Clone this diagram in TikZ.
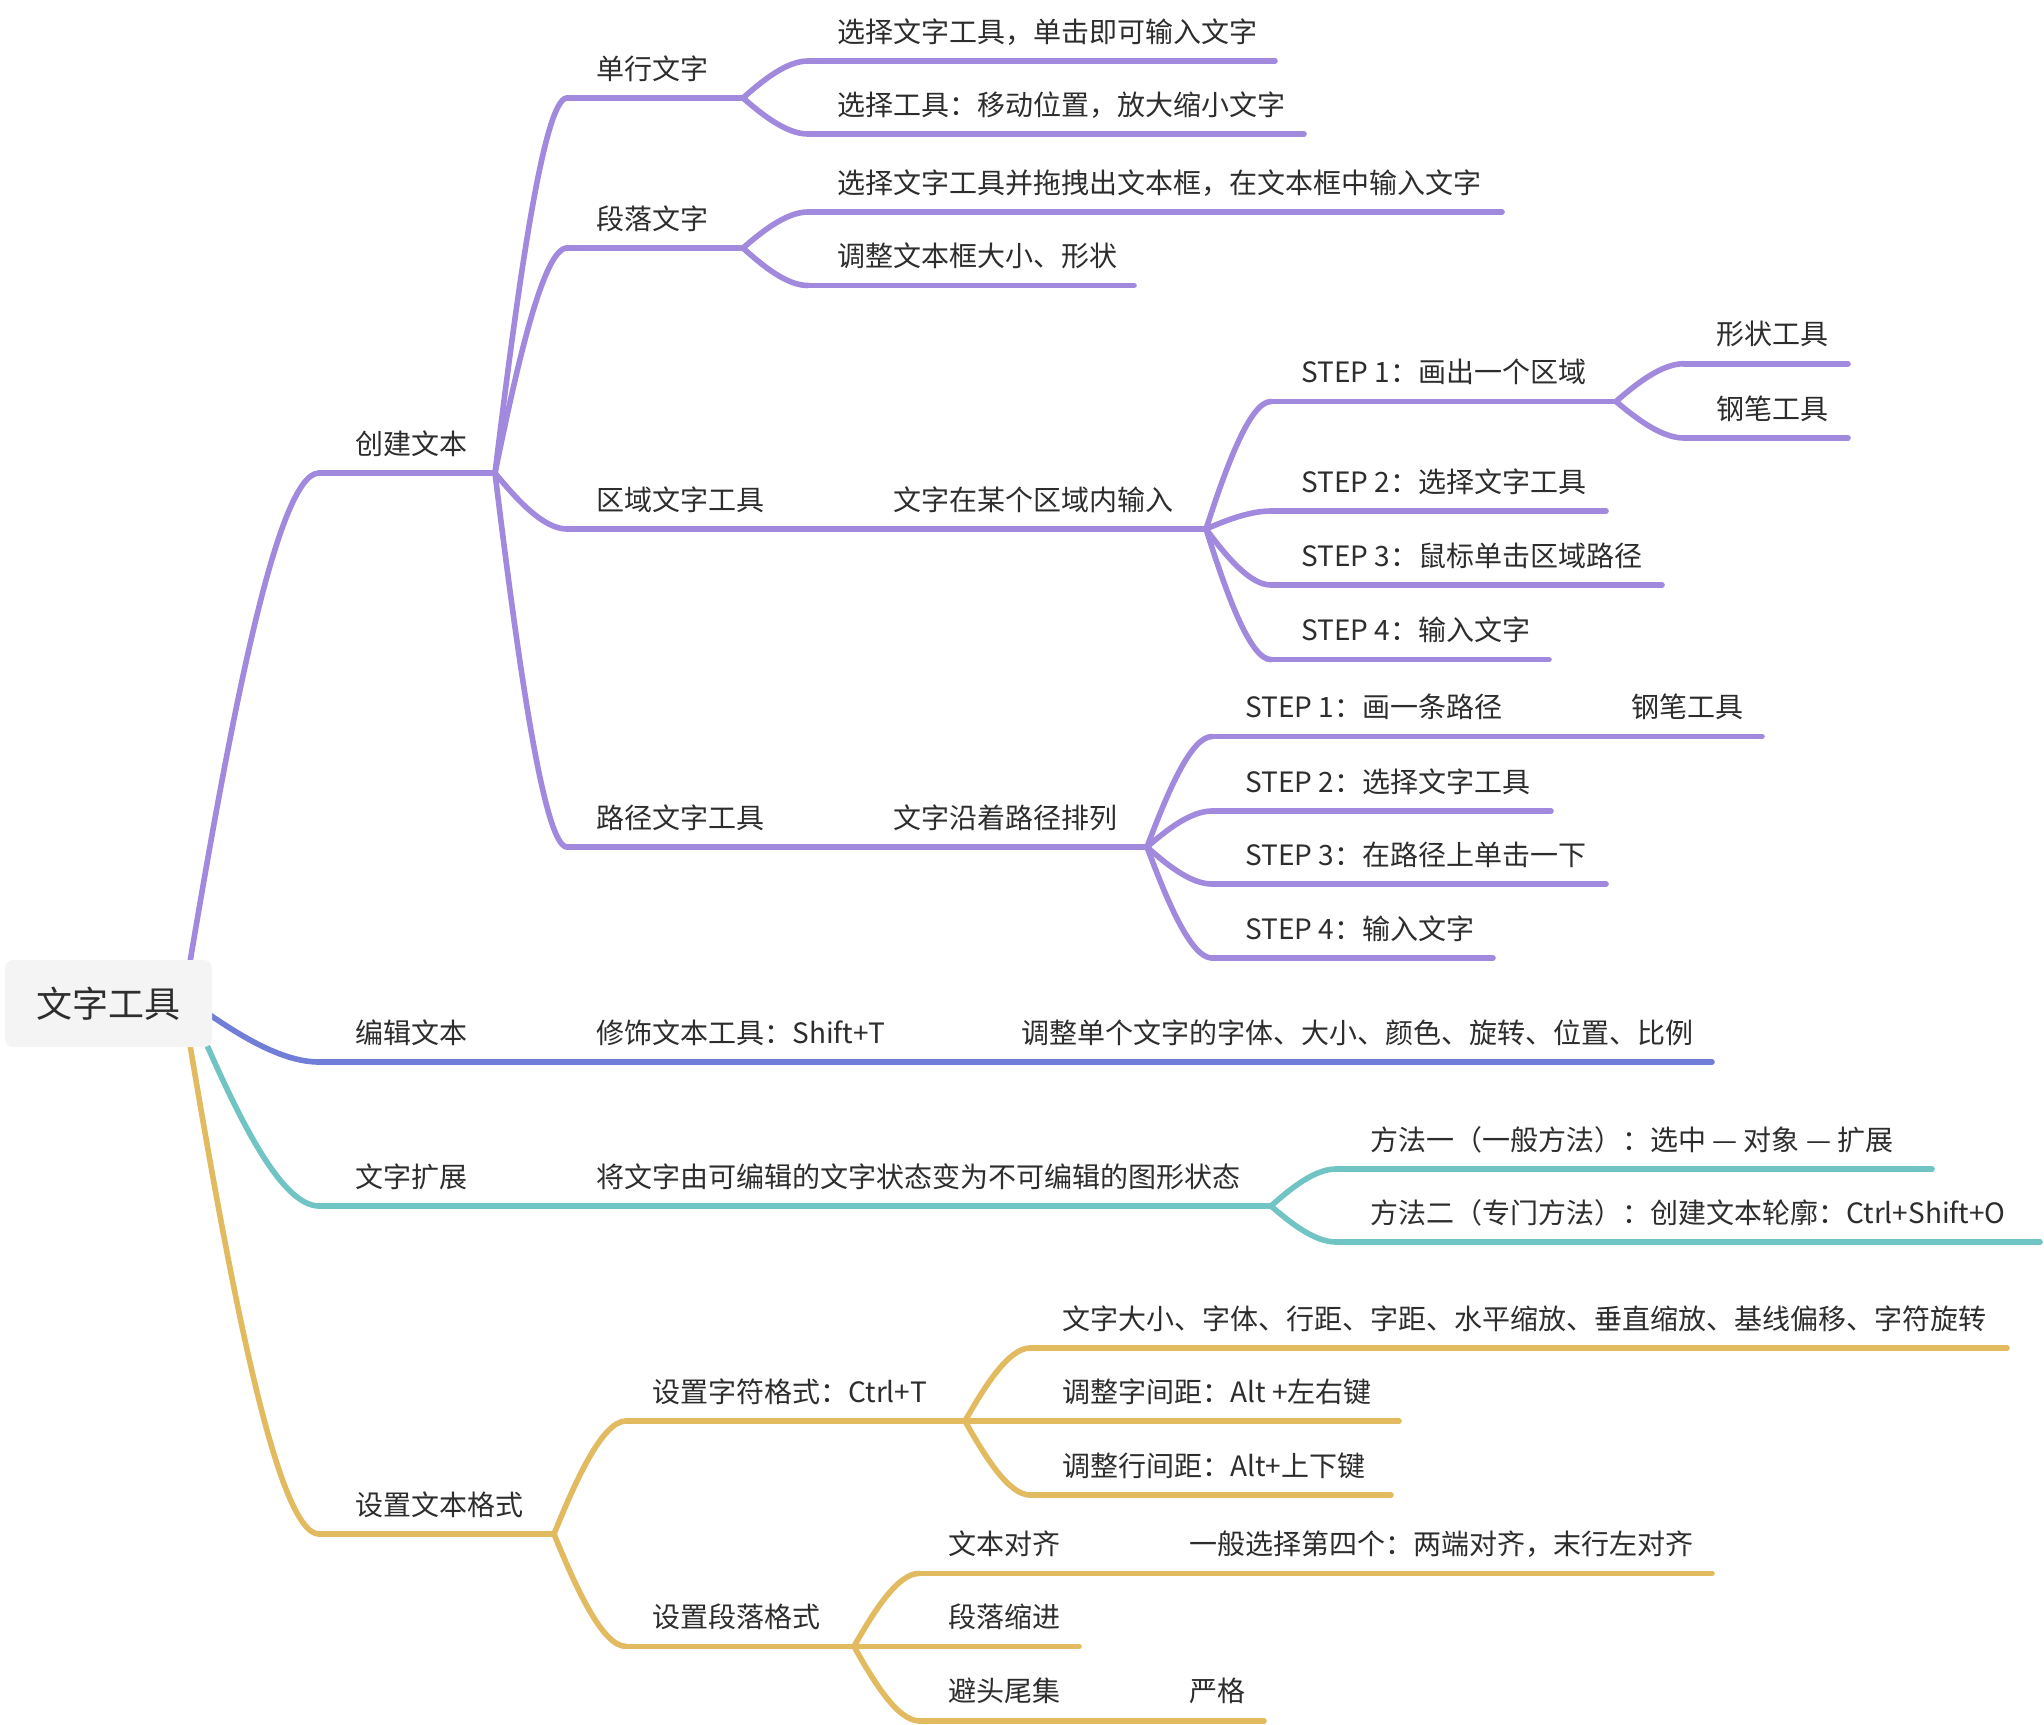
\documentclass[tikz,border=0pt]{standalone}
\usepackage{fontspec}
\setmainfont{Noto Sans CJK SC}
\usetikzlibrary{calc}
\definecolor{cpur}{RGB}{161,137,222}
\definecolor{cblu}{RGB}{112,126,216}
\definecolor{ctea}{RGB}{112,196,196}
\definecolor{cgol}{RGB}{226,186,96}
\definecolor{tcol}{RGB}{45,45,45}
\definecolor{rootfill}{RGB}{244,244,244}
\newcommand\mmnode[7]{%
  \coordinate (#1s) at (#3,#5);
  \coordinate (#1e) at (#4,#5);
  \draw[ln,#2] (#1s) -- (#1e);
  \node[txt] (#1) at (#6,#5-19) {#7};}
\newcommand\mmconn[3]{%
  \draw[ln,#1] let \p1=(#2), \p2=(#3) in (\p1) .. controls ({\x1+0.3*(\x2-\x1)},{\y1+0.47*(\y2-\y1)}) and ({\x2-0.33*(\x2-\x1)},{\y2}) .. (\p2);}
\begin{document}
\begin{tikzpicture}[x=0.5pt,y=-0.5pt,
  txt/.style={anchor=base west, inner sep=0pt, text=tcol, font=\fontsize{14pt}{16pt}\selectfont},
  ln/.style={line width=2.8pt, line cap=round}]
\useasboundingbox (0,0) rectangle (2044,1724);
% root anchors
\coordinate (r1) at (190,962);
\coordinate (r2) at (210,1015);
\coordinate (r3) at (206,1043);
\coordinate (r4) at (190,1045);
% ---- purple: 创建文本
\mmnode{A}{cpur}{319}{495}{473}{355}{创建文本}
\mmnode{A1}{cpur}{567}{743}{98}{596}{单行文字}
\mmnode{A1a}{cpur}{808}{1275}{61}{837}{选择文字工具，单击即可输入文字}
\mmnode{A1b}{cpur}{808}{1304}{134}{837}{选择工具：移动位置，放大缩小文字}
\mmnode{A2}{cpur}{567}{743}{248}{596}{段落文字}
\mmnode{A2a}{cpur}{808}{1502}{212}{837}{选择文字工具并拖拽出文本框，在文本框中输入文字}
\mmnode{A2b}{cpur}{808}{1134}{285.5}{837}{调整文本框大小、形状}
\mmnode{A3}{cpur}{567}{864}{529}{596}{区域文字工具}
\mmnode{A3a}{cpur}{864}{1206}{529}{893}{文字在某个区域内输入}
\mmnode{S1}{cpur}{1271}{1616}{401.5}{1301}{STEP 1：画出一个区域}
\mmnode{S1a}{cpur}{1684}{1848}{363.7}{1716}{形状工具}
\mmnode{S1b}{cpur}{1684}{1848}{438}{1716}{钢笔工具}
\mmnode{S2}{cpur}{1271}{1606}{511}{1301}{STEP 2：选择文字工具}
\mmnode{S3}{cpur}{1271}{1662}{585}{1301}{STEP 3：鼠标单击区域路径}
\mmnode{S4}{cpur}{1271}{1549}{659.6}{1301}{STEP 4：输入文字}
\mmnode{A4}{cpur}{567}{864}{847}{596}{路径文字工具}
\mmnode{A4a}{cpur}{864}{1147}{847}{893}{文字沿着路径排列}
\mmnode{P1}{cpur}{1212}{1602}{736.5}{1245}{STEP 1：画一条路径}
\mmnode{P1a}{cpur}{1602}{1762}{736.5}{1631}{钢笔工具}
\mmnode{P2}{cpur}{1212}{1551}{811}{1245}{STEP 2：选择文字工具}
\mmnode{P3}{cpur}{1212}{1606}{884}{1245}{STEP 3：在路径上单击一下}
\mmnode{P4}{cpur}{1212}{1493}{958}{1245}{STEP 4：输入文字}
\mmconn{cpur}{r1}{As}
\mmconn{cpur}{Ae}{A1s}
\mmconn{cpur}{Ae}{A2s}
\mmconn{cpur}{Ae}{A3s}
\mmconn{cpur}{Ae}{A4s}
\mmconn{cpur}{A1e}{A1as}
\mmconn{cpur}{A1e}{A1bs}
\mmconn{cpur}{A2e}{A2as}
\mmconn{cpur}{A2e}{A2bs}
\mmconn{cpur}{A3ae}{S1s}
\mmconn{cpur}{A3ae}{S2s}
\mmconn{cpur}{A3ae}{S3s}
\mmconn{cpur}{A3ae}{S4s}
\mmconn{cpur}{S1e}{S1as}
\mmconn{cpur}{S1e}{S1bs}
\mmconn{cpur}{A4ae}{P1s}
\mmconn{cpur}{A4ae}{P2s}
\mmconn{cpur}{A4ae}{P3s}
\mmconn{cpur}{A4ae}{P4s}
% ---- blue: 编辑文本
\mmnode{B}{cblu}{319}{567}{1062}{355}{编辑文本}
\mmnode{B1}{cblu}{567}{992}{1062}{596}{修饰文本工具：Shift+T}
\mmnode{B2}{cblu}{992}{1712}{1062}{1021}{调整单个文字的字体、大小、颜色、旋转、位置、比例}
\mmconn{cblu}{r2}{Bs}
% ---- teal: 文字扩展
\mmnode{C}{ctea}{319}{567}{1206}{355}{文字扩展}
\mmnode{C1}{ctea}{567}{1271}{1206}{596}{将文字由可编辑的文字状态变为不可编辑的图形状态}
\mmnode{C1a}{ctea}{1336}{1932}{1169}{1370}{方法一（一般方法）：选中 — 对象 — 扩展}
\mmnode{C1b}{ctea}{1336}{2040}{1242}{1370}{方法二（专门方法）：创建文本轮廓：Ctrl+Shift+O}
\mmconn{ctea}{r3}{Cs}
\mmconn{ctea}{C1e}{C1as}
\mmconn{ctea}{C1e}{C1bs}
% ---- gold: 设置文本格式
\mmnode{D}{cgol}{319}{554}{1534}{355}{设置文本格式}
\mmnode{D1}{cgol}{626}{965}{1421}{652}{设置字符格式：Ctrl+T}
\mmnode{D1a}{cgol}{1030}{2007}{1348}{1062}{文字大小、字体、行距、字距、水平缩放、垂直缩放、基线偏移、字符旋转}
\mmnode{D1b}{cgol}{1030}{1399}{1421}{1062}{调整字间距：Alt +左右键}
\mmnode{D1c}{cgol}{1030}{1391}{1495}{1062}{调整行间距：Alt+上下键}
\mmnode{D2}{cgol}{626}{854}{1646.4}{652}{设置段落格式}
\mmnode{D2a}{cgol}{919}{1160}{1573.4}{948}{文本对齐}
\mmnode{D2a1}{cgol}{1160}{1712}{1573.4}{1189}{一般选择第四个：两端对齐，末行左对齐}
\mmnode{D2b}{cgol}{919}{1079}{1646.4}{948}{段落缩进}
\mmnode{D2c}{cgol}{919}{1160}{1720.8}{948}{避头尾集}
\mmnode{D2c1}{cgol}{1160}{1264}{1720.8}{1189}{严格}
\mmconn{cgol}{r4}{Ds}
\mmconn{cgol}{De}{D1s}
\mmconn{cgol}{De}{D2s}
\mmconn{cgol}{D1e}{D1as}
\mmconn{cgol}{D1e}{D1bs}
\mmconn{cgol}{D1e}{D1cs}
\mmconn{cgol}{D2e}{D2as}
\mmconn{cgol}{D2e}{D2bs}
\mmconn{cgol}{D2e}{D2cs}
% ---- root
\node[fill=rootfill, rounded corners=4pt, minimum width=103.5pt, minimum height=43.5pt, inner sep=0pt,
      text=tcol, font=\fontsize{18pt}{20pt}\selectfont] (root) at (108.5,1003.5) {文字工具};
\end{tikzpicture}
\end{document}
